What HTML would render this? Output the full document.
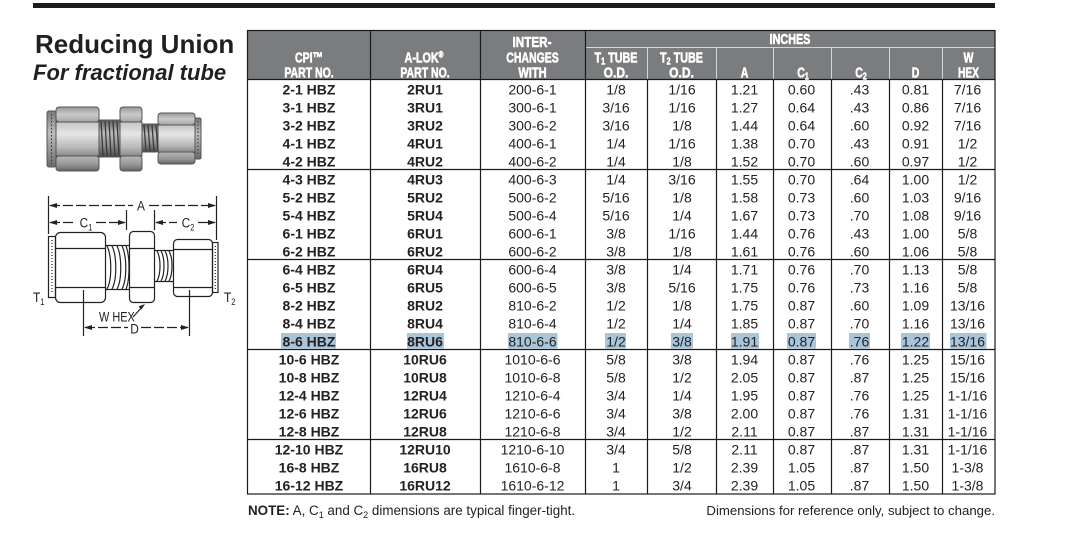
<!DOCTYPE html>
<html><head><meta charset="utf-8"><style>
html,body{margin:0;padding:0;background:#fff;}
svg{display:block;}
text{font-family:"Liberation Sans",Arial,sans-serif;}
.h{font-weight:bold;font-size:15px;fill:#fff;stroke:#fff;stroke-width:0.6px;}
.b{font-weight:bold;font-size:14px;fill:#222;}
.r{font-size:14px;fill:#222;}
.dl{font-size:14px;fill:#222;}
</style></head><body>
<svg width="1068" height="542" viewBox="0 0 1068 542" xmlns="http://www.w3.org/2000/svg">
<defs>
<linearGradient id="gt" x1="0" y1="0" x2="0" y2="1"><stop offset="0" stop-color="#989898"/><stop offset="0.5" stop-color="#cacaca"/><stop offset="1" stop-color="#a4a4a4"/></linearGradient>
<linearGradient id="gm" x1="0" y1="0" x2="0" y2="1"><stop offset="0" stop-color="#c4c4c4"/><stop offset="0.35" stop-color="#e6e6e6"/><stop offset="0.75" stop-color="#b8b8b8"/><stop offset="1" stop-color="#8a8a8a"/></linearGradient>
<linearGradient id="gb" x1="0" y1="0" x2="0" y2="1"><stop offset="0" stop-color="#b8b8b8"/><stop offset="0.6" stop-color="#949494"/><stop offset="1" stop-color="#626262"/></linearGradient>
<linearGradient id="gth" x1="0" y1="0" x2="0" y2="1"><stop offset="0" stop-color="#5e5e5e"/><stop offset="0.35" stop-color="#bdbdbd"/><stop offset="0.7" stop-color="#8a8a8a"/><stop offset="1" stop-color="#4a4a4a"/></linearGradient>
<linearGradient id="gtube" x1="0" y1="0" x2="0" y2="1"><stop offset="0" stop-color="#7a7a7a"/><stop offset="0.4" stop-color="#bdbdbd"/><stop offset="1" stop-color="#6a6a6a"/></linearGradient>
</defs>
<rect width="1068" height="542" fill="#fff"/>
<rect x="33" y="3" width="962" height="5" fill="#1c1c1c"/>

<text x="35" y="53" style="font-weight:bold;font-size:26px;fill:#231f20">Reducing Union</text>
<text x="33" y="80" style="font-weight:bold;font-style:italic;font-size:22px;fill:#231f20">For fractional tube</text>

<!-- photo fitting -->
<g stroke="#555" stroke-width="1">
 <rect x="47" y="111" width="9" height="56" rx="2" fill="url(#gtube)"/>
 <line x1="51.5" y1="114" x2="51.5" y2="164" stroke="#333" stroke-dasharray="1.5 2"/>
 <rect x="99" y="120" width="23" height="37" fill="url(#gth)"/>
 <rect x="142" y="124" width="18" height="28" fill="url(#gth)"/>
 <rect x="56" y="107" width="43" height="15" rx="3" fill="url(#gt)"/>
 <rect x="56" y="122" width="43" height="34" fill="url(#gm)"/>
 <rect x="56" y="156" width="43" height="15" rx="3" fill="url(#gb)"/>
 <rect x="120" y="107" width="22" height="15" rx="3" fill="url(#gt)"/>
 <rect x="120" y="122" width="22" height="34" fill="url(#gm)"/>
 <rect x="120" y="156" width="22" height="15" rx="3" fill="url(#gb)"/>
 <rect x="158" y="113" width="37" height="12" rx="3" fill="url(#gt)"/>
 <rect x="158" y="125" width="37" height="27" fill="url(#gm)"/>
 <rect x="158" y="152" width="37" height="12" rx="3" fill="url(#gb)"/>
 <rect x="195" y="118" width="6" height="41" rx="1.5" fill="url(#gtube)"/>
 <line x1="198" y1="121" x2="198" y2="156" stroke="#333" stroke-dasharray="1.5 2"/>
</g>
<g stroke="#3a3a3a" stroke-width="1.3" fill="none">
 <path d="M101,121 L103,156 M105,121 L107,156 M109,121 L111,156 M113,121 L115,156 M117,121 L119,156"/>
 <path d="M144,125 L146,151 M148,125 L150,151 M152,125 L154,151 M156,125 L158,151"/>
</g>

<!-- line diagram -->
<g stroke="#222" stroke-width="1.2" fill="none">
 <rect x="48.5" y="236.5" width="7" height="61"/>
 <line x1="52" y1="240" x2="52" y2="294" stroke-dasharray="1 2"/>
 <rect x="55.5" y="232.5" width="50" height="70" rx="5"/>
 <line x1="55.5" y1="248.5" x2="105.5" y2="248.5"/>
 <line x1="55.5" y1="287.5" x2="105.5" y2="287.5"/>
 <line x1="105.5" y1="245.5" x2="129.5" y2="245.5"/>
 <line x1="105.5" y1="289.5" x2="129.5" y2="289.5"/>
 <path d="M107,246 C112,256 112,280 107,289 M112,246 C117,256 117,280 112,289 M117,246 C122,256 122,280 117,289 M122,246 C127,256 127,280 122,289 M126,246 C130,256 130,280 126,289"/>
 <rect x="129.5" y="231.5" width="25" height="71" rx="4"/>
 <line x1="129.5" y1="248.5" x2="154.5" y2="248.5"/>
 <line x1="129.5" y1="287.5" x2="154.5" y2="287.5"/>
 <line x1="154.5" y1="250.5" x2="173.5" y2="250.5"/>
 <line x1="154.5" y1="281.5" x2="173.5" y2="281.5"/>
 <path d="M157,251 C161,258 161,274 157,281 M161,251 C165,258 165,274 161,281 M165,251 C169,258 169,274 165,281 M169,251 C173,258 173,274 169,281"/>
 <rect x="173.5" y="239.5" width="39" height="57" rx="4"/>
 <line x1="173.5" y1="249.5" x2="212.5" y2="249.5"/>
 <line x1="173.5" y1="287.5" x2="212.5" y2="287.5"/>
 <rect x="212.5" y="242.5" width="5.5" height="50"/>
 <line x1="215.3" y1="246" x2="215.3" y2="289" stroke-dasharray="1 2"/>
 <line x1="48.5" y1="196" x2="48.5" y2="234"/>
 <line x1="216.5" y1="196" x2="216.5" y2="240"/>
 <line x1="126.5" y1="210" x2="126.5" y2="230"/>
 <line x1="154.5" y1="210" x2="154.5" y2="230"/>
 <line x1="83.5" y1="290" x2="83.5" y2="336"/>
 <line x1="189.5" y1="290" x2="189.5" y2="336"/>
 <g stroke-dasharray="10 3">
  <line x1="50" y1="205.5" x2="133" y2="205.5"/>
  <line x1="149" y1="205.5" x2="215" y2="205.5"/>
  <line x1="50" y1="222.5" x2="76" y2="222.5"/>
  <line x1="96" y1="222.5" x2="125" y2="222.5"/>
  <line x1="156" y1="222.5" x2="177" y2="222.5"/>
  <line x1="198" y1="222.5" x2="215" y2="222.5"/>
  <line x1="85" y1="327.5" x2="128" y2="327.5"/>
  <line x1="141" y1="327.5" x2="188" y2="327.5"/>
 </g>
 <line x1="133" y1="317" x2="143" y2="306"/>
</g>
<g fill="#222">
 <polygon points="49,205.5 57,203 57,208"/>
 <polygon points="216,205.5 208,203 208,208"/>
 <polygon points="49,222.5 57,220 57,225"/>
 <polygon points="126,222.5 118,220 118,225"/>
 <polygon points="155,222.5 163,220 163,225"/>
 <polygon points="216,222.5 208,220 208,225"/>
 <polygon points="84,327.5 92,325 92,330"/>
 <polygon points="189,327.5 181,325 181,330"/>
 <polygon points="145,304 138.5,306.5 141.5,309.5"/>
</g>
<g transform="translate(141,210.5) scale(0.85,1)"><text class="dl" text-anchor="middle">A</text></g>
<g transform="translate(86,227.5) scale(0.85,1)"><text class="dl" text-anchor="middle">C<tspan font-size="9" dy="3">1</tspan></text></g>
<g transform="translate(188,227.5) scale(0.85,1)"><text class="dl" text-anchor="middle">C<tspan font-size="9" dy="3">2</tspan></text></g>
<g transform="translate(33,302) scale(0.85,1)"><text class="dl">T<tspan font-size="9" dy="3">1</tspan></text></g>
<g transform="translate(224,302) scale(0.85,1)"><text class="dl">T<tspan font-size="9" dy="3">2</tspan></text></g>
<g transform="translate(99,321.5) scale(0.78,1)"><text class="dl">W HEX</text></g>
<g transform="translate(134.5,333.5) scale(0.85,1)"><text class="dl" text-anchor="middle">D</text></g>

<!-- table header -->
<rect x="248" y="30" width="747" height="49" fill="#7b7c7e"/>
<g stroke="#d6d6d6" stroke-width="1">
 <line x1="585" y1="47.5" x2="995" y2="47.5"/>
 <line x1="647.5" y1="48" x2="647.5" y2="79"/>
 <line x1="716.5" y1="48" x2="716.5" y2="79"/>
 <line x1="773.5" y1="48" x2="773.5" y2="79"/>
 <line x1="831.5" y1="48" x2="831.5" y2="79"/>
 <line x1="889.5" y1="48" x2="889.5" y2="79"/>
 <line x1="942.5" y1="48" x2="942.5" y2="79"/>
</g>

<!-- highlight -->
<g fill="#a8c5da">
 <rect x="281" y="333" width="55" height="15.5"/>
 <rect x="407" y="333" width="37" height="15.5"/>
 <rect x="508" y="333" width="49.5" height="15.5"/>
 <rect x="605" y="333" width="21" height="15.5"/>
 <rect x="671" y="333" width="22" height="15.5"/>
 <rect x="731" y="333" width="28" height="15.5"/>
 <rect x="787" y="333" width="29" height="15.5"/>
 <rect x="849" y="333" width="21" height="15.5"/>
 <rect x="901" y="333" width="29" height="15.5"/>
 <rect x="950" y="333" width="36.5" height="15.5"/>
</g>

<g stroke="#1a1a1a" stroke-width="1.2" fill="none">
 <rect x="247.5" y="30.5" width="747.5" height="463.5"/>
 <line x1="248" y1="79.5" x2="995" y2="79.5"/>
 <line x1="370.5" y1="30" x2="370.5" y2="494"/>
 <line x1="480.5" y1="30" x2="480.5" y2="494"/>
 <line x1="585.5" y1="30" x2="585.5" y2="494"/>
 <line x1="647.5" y1="79" x2="647.5" y2="494"/>
 <line x1="716.5" y1="79" x2="716.5" y2="494"/>
 <line x1="773.5" y1="79" x2="773.5" y2="494"/>
 <line x1="831.5" y1="79" x2="831.5" y2="494"/>
 <line x1="889.5" y1="79" x2="889.5" y2="494"/>
 <line x1="942.5" y1="79" x2="942.5" y2="494"/>
 <line x1="248" y1="169.5" x2="995" y2="169.5"/>
 <line x1="248" y1="259.5" x2="995" y2="259.5"/>
 <line x1="248" y1="349.5" x2="995" y2="349.5"/>
 <line x1="248" y1="439.5" x2="995" y2="439.5"/>
</g>

<!-- header text -->
<g transform="translate(309,62.5) scale(0.7,1)"><text class="h" text-anchor="middle">CPI™</text></g>
<g transform="translate(309,77.5) scale(0.7,1)"><text class="h" text-anchor="middle">PART NO.</text></g>
<g transform="translate(424,62.5) scale(0.72,1)"><text class="h" text-anchor="middle">A-LOK<tspan font-size="9" dy="-5">®</tspan></text></g>
<g transform="translate(425,77.5) scale(0.7,1)"><text class="h" text-anchor="middle">PART NO.</text></g>
<g transform="translate(532,47) scale(0.78,1)"><text class="h" text-anchor="middle">INTER-</text></g>
<g transform="translate(532.5,62.5) scale(0.7,1)"><text class="h" text-anchor="middle">CHANGES</text></g>
<g transform="translate(532.5,77.5) scale(0.74,1)"><text class="h" text-anchor="middle">WITH</text></g>
<g transform="translate(790,44) scale(0.72,1)"><text class="h" text-anchor="middle">INCHES</text></g>
<g transform="translate(616,62.5) scale(0.72,1)"><text class="h" text-anchor="middle">T<tspan font-size="10" dy="2">1</tspan><tspan dy="-2">  TUBE</tspan></text></g>
<g transform="translate(616,77.5) scale(0.8,1)"><text class="h" text-anchor="middle">O.D.</text></g>
<g transform="translate(681.5,62.5) scale(0.72,1)"><text class="h" text-anchor="middle">T<tspan font-size="10" dy="2">2</tspan><tspan dy="-2"> TUBE</tspan></text></g>
<g transform="translate(681.5,77.5) scale(0.8,1)"><text class="h" text-anchor="middle">O.D.</text></g>
<g transform="translate(744.5,77.5) scale(0.7,1)"><text class="h" text-anchor="middle">A</text></g>
<g transform="translate(803,77.5) scale(0.7,1)"><text class="h" text-anchor="middle">C<tspan font-size="10" dy="2">1</tspan></text></g>
<g transform="translate(861,77.5) scale(0.7,1)"><text class="h" text-anchor="middle">C<tspan font-size="10" dy="2">2</tspan></text></g>
<g transform="translate(915.5,77.5) scale(0.7,1)"><text class="h" text-anchor="middle">D</text></g>
<g transform="translate(968.5,62.5) scale(0.7,1)"><text class="h" text-anchor="middle">W</text></g>
<g transform="translate(968.5,77.5) scale(0.68,1)"><text class="h" text-anchor="middle">HEX</text></g>

<!-- body -->
<text class="b" text-anchor="middle">
<tspan x="309" y="94.5">2-1 HBZ</tspan><tspan x="309" y="112.5">3-1 HBZ</tspan><tspan x="309" y="130.5">3-2 HBZ</tspan><tspan x="309" y="148.5">4-1 HBZ</tspan><tspan x="309" y="166.5">4-2 HBZ</tspan><tspan x="309" y="184.5">4-3 HBZ</tspan><tspan x="309" y="202.5">5-2 HBZ</tspan><tspan x="309" y="220.5">5-4 HBZ</tspan><tspan x="309" y="238.5">6-1 HBZ</tspan><tspan x="309" y="256.5">6-2 HBZ</tspan><tspan x="309" y="274.5">6-4 HBZ</tspan><tspan x="309" y="292.5">6-5 HBZ</tspan><tspan x="309" y="310.5">8-2 HBZ</tspan><tspan x="309" y="328.5">8-4 HBZ</tspan><tspan x="309" y="346.5">8-6 HBZ</tspan><tspan x="309" y="364.5">10-6 HBZ</tspan><tspan x="309" y="382.5">10-8 HBZ</tspan><tspan x="309" y="400.5">12-4 HBZ</tspan><tspan x="309" y="418.5">12-6 HBZ</tspan><tspan x="309" y="436.5">12-8 HBZ</tspan><tspan x="309" y="454.5">12-10 HBZ</tspan><tspan x="309" y="472.5">16-8 HBZ</tspan><tspan x="309" y="490.5">16-12 HBZ</tspan>
</text>
<text class="b" text-anchor="middle">
<tspan x="425" y="94.5">2RU1</tspan><tspan x="425" y="112.5">3RU1</tspan><tspan x="425" y="130.5">3RU2</tspan><tspan x="425" y="148.5">4RU1</tspan><tspan x="425" y="166.5">4RU2</tspan><tspan x="425" y="184.5">4RU3</tspan><tspan x="425" y="202.5">5RU2</tspan><tspan x="425" y="220.5">5RU4</tspan><tspan x="425" y="238.5">6RU1</tspan><tspan x="425" y="256.5">6RU2</tspan><tspan x="425" y="274.5">6RU4</tspan><tspan x="425" y="292.5">6RU5</tspan><tspan x="425" y="310.5">8RU2</tspan><tspan x="425" y="328.5">8RU4</tspan><tspan x="425" y="346.5">8RU6</tspan><tspan x="425" y="364.5">10RU6</tspan><tspan x="425" y="382.5">10RU8</tspan><tspan x="425" y="400.5">12RU4</tspan><tspan x="425" y="418.5">12RU6</tspan><tspan x="425" y="436.5">12RU8</tspan><tspan x="425" y="454.5">12RU10</tspan><tspan x="425" y="472.5">16RU8</tspan><tspan x="425" y="490.5">16RU12</tspan>
</text>
<text class="r" text-anchor="middle">
<tspan x="532.5" y="94.5">200-6-1</tspan><tspan x="532.5" y="112.5">300-6-1</tspan><tspan x="532.5" y="130.5">300-6-2</tspan><tspan x="532.5" y="148.5">400-6-1</tspan><tspan x="532.5" y="166.5">400-6-2</tspan><tspan x="532.5" y="184.5">400-6-3</tspan><tspan x="532.5" y="202.5">500-6-2</tspan><tspan x="532.5" y="220.5">500-6-4</tspan><tspan x="532.5" y="238.5">600-6-1</tspan><tspan x="532.5" y="256.5">600-6-2</tspan><tspan x="532.5" y="274.5">600-6-4</tspan><tspan x="532.5" y="292.5">600-6-5</tspan><tspan x="532.5" y="310.5">810-6-2</tspan><tspan x="532.5" y="328.5">810-6-4</tspan><tspan x="532.5" y="346.5">810-6-6</tspan><tspan x="532.5" y="364.5">1010-6-6</tspan><tspan x="532.5" y="382.5">1010-6-8</tspan><tspan x="532.5" y="400.5">1210-6-4</tspan><tspan x="532.5" y="418.5">1210-6-6</tspan><tspan x="532.5" y="436.5">1210-6-8</tspan><tspan x="532.5" y="454.5">1210-6-10</tspan><tspan x="532.5" y="472.5">1610-6-8</tspan><tspan x="532.5" y="490.5">1610-6-12</tspan>
</text>
<text class="r" text-anchor="middle">
<tspan x="616" y="94.5">1/8</tspan><tspan x="616" y="112.5">3/16</tspan><tspan x="616" y="130.5">3/16</tspan><tspan x="616" y="148.5">1/4</tspan><tspan x="616" y="166.5">1/4</tspan><tspan x="616" y="184.5">1/4</tspan><tspan x="616" y="202.5">5/16</tspan><tspan x="616" y="220.5">5/16</tspan><tspan x="616" y="238.5">3/8</tspan><tspan x="616" y="256.5">3/8</tspan><tspan x="616" y="274.5">3/8</tspan><tspan x="616" y="292.5">3/8</tspan><tspan x="616" y="310.5">1/2</tspan><tspan x="616" y="328.5">1/2</tspan><tspan x="616" y="346.5">1/2</tspan><tspan x="616" y="364.5">5/8</tspan><tspan x="616" y="382.5">5/8</tspan><tspan x="616" y="400.5">3/4</tspan><tspan x="616" y="418.5">3/4</tspan><tspan x="616" y="436.5">3/4</tspan><tspan x="616" y="454.5">3/4</tspan><tspan x="616" y="472.5">1</tspan><tspan x="616" y="490.5">1</tspan>
</text>
<text class="r" text-anchor="middle">
<tspan x="682" y="94.5">1/16</tspan><tspan x="682" y="112.5">1/16</tspan><tspan x="682" y="130.5">1/8</tspan><tspan x="682" y="148.5">1/16</tspan><tspan x="682" y="166.5">1/8</tspan><tspan x="682" y="184.5">3/16</tspan><tspan x="682" y="202.5">1/8</tspan><tspan x="682" y="220.5">1/4</tspan><tspan x="682" y="238.5">1/16</tspan><tspan x="682" y="256.5">1/8</tspan><tspan x="682" y="274.5">1/4</tspan><tspan x="682" y="292.5">5/16</tspan><tspan x="682" y="310.5">1/8</tspan><tspan x="682" y="328.5">1/4</tspan><tspan x="682" y="346.5">3/8</tspan><tspan x="682" y="364.5">3/8</tspan><tspan x="682" y="382.5">1/2</tspan><tspan x="682" y="400.5">1/4</tspan><tspan x="682" y="418.5">3/8</tspan><tspan x="682" y="436.5">1/2</tspan><tspan x="682" y="454.5">5/8</tspan><tspan x="682" y="472.5">1/2</tspan><tspan x="682" y="490.5">3/4</tspan>
</text>
<text class="r" text-anchor="middle">
<tspan x="744.5" y="94.5">1.21</tspan><tspan x="744.5" y="112.5">1.27</tspan><tspan x="744.5" y="130.5">1.44</tspan><tspan x="744.5" y="148.5">1.38</tspan><tspan x="744.5" y="166.5">1.52</tspan><tspan x="744.5" y="184.5">1.55</tspan><tspan x="744.5" y="202.5">1.58</tspan><tspan x="744.5" y="220.5">1.67</tspan><tspan x="744.5" y="238.5">1.44</tspan><tspan x="744.5" y="256.5">1.61</tspan><tspan x="744.5" y="274.5">1.71</tspan><tspan x="744.5" y="292.5">1.75</tspan><tspan x="744.5" y="310.5">1.75</tspan><tspan x="744.5" y="328.5">1.85</tspan><tspan x="744.5" y="346.5">1.91</tspan><tspan x="744.5" y="364.5">1.94</tspan><tspan x="744.5" y="382.5">2.05</tspan><tspan x="744.5" y="400.5">1.95</tspan><tspan x="744.5" y="418.5">2.00</tspan><tspan x="744.5" y="436.5">2.11</tspan><tspan x="744.5" y="454.5">2.11</tspan><tspan x="744.5" y="472.5">2.39</tspan><tspan x="744.5" y="490.5">2.39</tspan>
</text>
<text class="r" text-anchor="middle">
<tspan x="801.5" y="94.5">0.60</tspan><tspan x="801.5" y="112.5">0.64</tspan><tspan x="801.5" y="130.5">0.64</tspan><tspan x="801.5" y="148.5">0.70</tspan><tspan x="801.5" y="166.5">0.70</tspan><tspan x="801.5" y="184.5">0.70</tspan><tspan x="801.5" y="202.5">0.73</tspan><tspan x="801.5" y="220.5">0.73</tspan><tspan x="801.5" y="238.5">0.76</tspan><tspan x="801.5" y="256.5">0.76</tspan><tspan x="801.5" y="274.5">0.76</tspan><tspan x="801.5" y="292.5">0.76</tspan><tspan x="801.5" y="310.5">0.87</tspan><tspan x="801.5" y="328.5">0.87</tspan><tspan x="801.5" y="346.5">0.87</tspan><tspan x="801.5" y="364.5">0.87</tspan><tspan x="801.5" y="382.5">0.87</tspan><tspan x="801.5" y="400.5">0.87</tspan><tspan x="801.5" y="418.5">0.87</tspan><tspan x="801.5" y="436.5">0.87</tspan><tspan x="801.5" y="454.5">0.87</tspan><tspan x="801.5" y="472.5">1.05</tspan><tspan x="801.5" y="490.5">1.05</tspan>
</text>
<text class="r" text-anchor="middle">
<tspan x="859.5" y="94.5">.43</tspan><tspan x="859.5" y="112.5">.43</tspan><tspan x="859.5" y="130.5">.60</tspan><tspan x="859.5" y="148.5">.43</tspan><tspan x="859.5" y="166.5">.60</tspan><tspan x="859.5" y="184.5">.64</tspan><tspan x="859.5" y="202.5">.60</tspan><tspan x="859.5" y="220.5">.70</tspan><tspan x="859.5" y="238.5">.43</tspan><tspan x="859.5" y="256.5">.60</tspan><tspan x="859.5" y="274.5">.70</tspan><tspan x="859.5" y="292.5">.73</tspan><tspan x="859.5" y="310.5">.60</tspan><tspan x="859.5" y="328.5">.70</tspan><tspan x="859.5" y="346.5">.76</tspan><tspan x="859.5" y="364.5">.76</tspan><tspan x="859.5" y="382.5">.87</tspan><tspan x="859.5" y="400.5">.76</tspan><tspan x="859.5" y="418.5">.76</tspan><tspan x="859.5" y="436.5">.87</tspan><tspan x="859.5" y="454.5">.87</tspan><tspan x="859.5" y="472.5">.87</tspan><tspan x="859.5" y="490.5">.87</tspan>
</text>
<text class="r" text-anchor="middle">
<tspan x="915.5" y="94.5">0.81</tspan><tspan x="915.5" y="112.5">0.86</tspan><tspan x="915.5" y="130.5">0.92</tspan><tspan x="915.5" y="148.5">0.91</tspan><tspan x="915.5" y="166.5">0.97</tspan><tspan x="915.5" y="184.5">1.00</tspan><tspan x="915.5" y="202.5">1.03</tspan><tspan x="915.5" y="220.5">1.08</tspan><tspan x="915.5" y="238.5">1.00</tspan><tspan x="915.5" y="256.5">1.06</tspan><tspan x="915.5" y="274.5">1.13</tspan><tspan x="915.5" y="292.5">1.16</tspan><tspan x="915.5" y="310.5">1.09</tspan><tspan x="915.5" y="328.5">1.16</tspan><tspan x="915.5" y="346.5">1.22</tspan><tspan x="915.5" y="364.5">1.25</tspan><tspan x="915.5" y="382.5">1.25</tspan><tspan x="915.5" y="400.5">1.25</tspan><tspan x="915.5" y="418.5">1.31</tspan><tspan x="915.5" y="436.5">1.31</tspan><tspan x="915.5" y="454.5">1.31</tspan><tspan x="915.5" y="472.5">1.50</tspan><tspan x="915.5" y="490.5">1.50</tspan>
</text>
<text class="r" text-anchor="middle">
<tspan x="967.5" y="94.5">7/16</tspan><tspan x="967.5" y="112.5">7/16</tspan><tspan x="967.5" y="130.5">7/16</tspan><tspan x="967.5" y="148.5">1/2</tspan><tspan x="967.5" y="166.5">1/2</tspan><tspan x="967.5" y="184.5">1/2</tspan><tspan x="967.5" y="202.5">9/16</tspan><tspan x="967.5" y="220.5">9/16</tspan><tspan x="967.5" y="238.5">5/8</tspan><tspan x="967.5" y="256.5">5/8</tspan><tspan x="967.5" y="274.5">5/8</tspan><tspan x="967.5" y="292.5">5/8</tspan><tspan x="967.5" y="310.5">13/16</tspan><tspan x="967.5" y="328.5">13/16</tspan><tspan x="967.5" y="346.5">13/16</tspan><tspan x="967.5" y="364.5">15/16</tspan><tspan x="967.5" y="382.5">15/16</tspan><tspan x="967.5" y="400.5">1-1/16</tspan><tspan x="967.5" y="418.5">1-1/16</tspan><tspan x="967.5" y="436.5">1-1/16</tspan><tspan x="967.5" y="454.5">1-1/16</tspan><tspan x="967.5" y="472.5">1-3/8</tspan><tspan x="967.5" y="490.5">1-3/8</tspan>
</text>

<!-- footer -->
<text x="248" y="515" style="font-size:13.4px;fill:#222"><tspan font-weight="bold">NOTE:</tspan> A, C<tspan font-size="9" dy="3">1</tspan><tspan dy="-3"> and C</tspan><tspan font-size="9" dy="3">2</tspan><tspan dy="-3"> dimensions are typical finger-tight.</tspan></text>
<text x="995" y="515" text-anchor="end" style="font-size:13.2px;fill:#222">Dimensions for reference only, subject to change.</text>
</svg>
</body></html>
